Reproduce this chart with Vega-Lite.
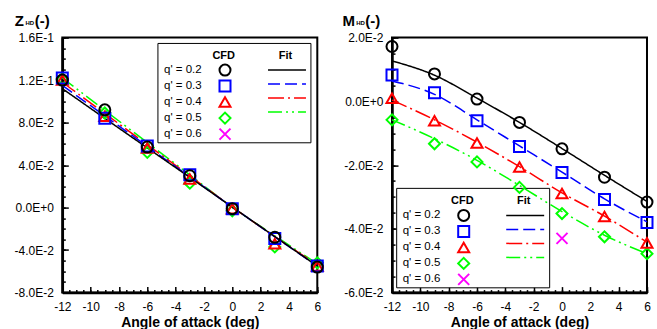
{
  "$schema": "https://vega.github.io/schema/vega-lite/v6.json",
  "padding": {"left": 12.3, "top": 11.6, "right": 0, "bottom": 0},
  "spacing": 12.7,
  "config": {
    "font": "Liberation Sans",
    "view": {"stroke": "black", "strokeWidth": 2},
    "axis": {"grid": false, "labelColor": "black", "tickColor": "black", "domainColor": "black", "titleColor": "black", "labelFontSize": 12, "labelFlush": false, "labelOverlap": false},
    "legend": {"labelFontSize": 11.5, "labelFontWeight": "normal", "labelColor": "black", "titleFontSize": 11, "titleFontWeight": "bold", "titleColor": "black", "gridAlign": "all", "rowPadding": -4.7, "padding": 0, "titlePadding": 2.75, "symbolSize": 121, "symbolStrokeWidth": 2, "orient": "none"}
  },
  "datasets": {
    "zCfd": [
      {"series": "q' = 0.5", "aoa": -12, "value": 0.121},
      {"series": "q' = 0.5", "aoa": -9, "value": 0.089},
      {"series": "q' = 0.5", "aoa": -6, "value": 0.052},
      {"series": "q' = 0.5", "aoa": -3, "value": 0.023},
      {"series": "q' = 0.5", "aoa": 0, "value": -0.003},
      {"series": "q' = 0.5", "aoa": 3, "value": -0.037},
      {"series": "q' = 0.5", "aoa": 6, "value": -0.052},
      {"series": "q' = 0.4", "aoa": -12, "value": 0.120},
      {"series": "q' = 0.4", "aoa": -9, "value": 0.086},
      {"series": "q' = 0.4", "aoa": -6, "value": 0.056},
      {"series": "q' = 0.4", "aoa": -3, "value": 0.027},
      {"series": "q' = 0.4", "aoa": 0, "value": -0.001},
      {"series": "q' = 0.4", "aoa": 3, "value": -0.034},
      {"series": "q' = 0.4", "aoa": 6, "value": -0.055},
      {"series": "q' = 0.3", "aoa": -12, "value": 0.122},
      {"series": "q' = 0.3", "aoa": -9, "value": 0.084},
      {"series": "q' = 0.3", "aoa": -6, "value": 0.058},
      {"series": "q' = 0.3", "aoa": -3, "value": 0.031},
      {"series": "q' = 0.3", "aoa": 0, "value": -0.001},
      {"series": "q' = 0.3", "aoa": 3, "value": -0.029},
      {"series": "q' = 0.3", "aoa": 6, "value": -0.055},
      {"series": "q' = 0.2", "aoa": -12, "value": 0.120},
      {"series": "q' = 0.2", "aoa": -9, "value": 0.092},
      {"series": "q' = 0.2", "aoa": -6, "value": 0.057},
      {"series": "q' = 0.2", "aoa": -3, "value": 0.030},
      {"series": "q' = 0.2", "aoa": 0, "value": -0.001},
      {"series": "q' = 0.2", "aoa": 3, "value": -0.028},
      {"series": "q' = 0.2", "aoa": 6, "value": -0.056}
    ],
    "zFit": [
      {"series": "q' = 0.5", "aoa": -12, "value": 0.122},
      {"series": "q' = 0.5", "aoa": -9, "value": 0.0916},
      {"series": "q' = 0.5", "aoa": -6, "value": 0.0612},
      {"series": "q' = 0.5", "aoa": -3, "value": 0.0308},
      {"series": "q' = 0.5", "aoa": 0, "value": 0.0003},
      {"series": "q' = 0.5", "aoa": 3, "value": -0.0265},
      {"series": "q' = 0.5", "aoa": 6, "value": -0.053},
      {"series": "q' = 0.4", "aoa": -12, "value": 0.118},
      {"series": "q' = 0.4", "aoa": -9, "value": 0.0886},
      {"series": "q' = 0.4", "aoa": -6, "value": 0.0592},
      {"series": "q' = 0.4", "aoa": -3, "value": 0.0298},
      {"series": "q' = 0.4", "aoa": 0, "value": 0.0005},
      {"series": "q' = 0.4", "aoa": 3, "value": -0.0272},
      {"series": "q' = 0.4", "aoa": 6, "value": -0.054},
      {"series": "q' = 0.3", "aoa": -12, "value": 0.115},
      {"series": "q' = 0.3", "aoa": -9, "value": 0.0863},
      {"series": "q' = 0.3", "aoa": -6, "value": 0.0576},
      {"series": "q' = 0.3", "aoa": -3, "value": 0.029},
      {"series": "q' = 0.3", "aoa": 0, "value": 0.0005},
      {"series": "q' = 0.3", "aoa": 3, "value": -0.0275},
      {"series": "q' = 0.3", "aoa": 6, "value": -0.055},
      {"series": "q' = 0.2", "aoa": -12, "value": 0.112},
      {"series": "q' = 0.2", "aoa": -9, "value": 0.084},
      {"series": "q' = 0.2", "aoa": -6, "value": 0.0562},
      {"series": "q' = 0.2", "aoa": -3, "value": 0.0284},
      {"series": "q' = 0.2", "aoa": 0, "value": 0.0005},
      {"series": "q' = 0.2", "aoa": 3, "value": -0.0273},
      {"series": "q' = 0.2", "aoa": 6, "value": -0.055}
    ],
    "mCfd": [
      {"series": "q' = 0.6", "aoa": 0, "value": -0.043},
      {"series": "q' = 0.5", "aoa": -12, "value": -0.0058},
      {"series": "q' = 0.5", "aoa": -9, "value": -0.0133},
      {"series": "q' = 0.5", "aoa": -6, "value": -0.0190},
      {"series": "q' = 0.5", "aoa": -3, "value": -0.0270},
      {"series": "q' = 0.5", "aoa": 0, "value": -0.0352},
      {"series": "q' = 0.5", "aoa": 3, "value": -0.0425},
      {"series": "q' = 0.5", "aoa": 6, "value": -0.0478},
      {"series": "q' = 0.4", "aoa": -12, "value": 0.0010},
      {"series": "q' = 0.4", "aoa": -9, "value": -0.0061},
      {"series": "q' = 0.4", "aoa": -6, "value": -0.0131},
      {"series": "q' = 0.4", "aoa": -3, "value": -0.0206},
      {"series": "q' = 0.4", "aoa": 0, "value": -0.0289},
      {"series": "q' = 0.4", "aoa": 3, "value": -0.0361},
      {"series": "q' = 0.4", "aoa": 6, "value": -0.0444},
      {"series": "q' = 0.3", "aoa": -12, "value": 0.0083},
      {"series": "q' = 0.3", "aoa": -9, "value": 0.0027},
      {"series": "q' = 0.3", "aoa": -6, "value": -0.0061},
      {"series": "q' = 0.3", "aoa": -3, "value": -0.0142},
      {"series": "q' = 0.3", "aoa": 0, "value": -0.0223},
      {"series": "q' = 0.3", "aoa": 3, "value": -0.0308},
      {"series": "q' = 0.3", "aoa": 6, "value": -0.0380},
      {"series": "q' = 0.2", "aoa": -12, "value": 0.0172},
      {"series": "q' = 0.2", "aoa": -9, "value": 0.0086},
      {"series": "q' = 0.2", "aoa": -6, "value": 0.0007},
      {"series": "q' = 0.2", "aoa": -3, "value": -0.0066},
      {"series": "q' = 0.2", "aoa": 0, "value": -0.0149},
      {"series": "q' = 0.2", "aoa": 3, "value": -0.0238},
      {"series": "q' = 0.2", "aoa": 6, "value": -0.0316}
    ],
    "mFit": [
      {"series": "q' = 0.5", "aoa": -12, "value": -0.0058},
      {"series": "q' = 0.5", "aoa": -9, "value": -0.0117},
      {"series": "q' = 0.5", "aoa": -6, "value": -0.0185},
      {"series": "q' = 0.5", "aoa": -3, "value": -0.0264},
      {"series": "q' = 0.5", "aoa": 0, "value": -0.0346},
      {"series": "q' = 0.5", "aoa": 3, "value": -0.0420},
      {"series": "q' = 0.5", "aoa": 6, "value": -0.0478},
      {"series": "q' = 0.4", "aoa": -12, "value": 0.0004},
      {"series": "q' = 0.4", "aoa": -9, "value": -0.0058},
      {"series": "q' = 0.4", "aoa": -6, "value": -0.0128},
      {"series": "q' = 0.4", "aoa": -3, "value": -0.0205},
      {"series": "q' = 0.4", "aoa": 0, "value": -0.0287},
      {"series": "q' = 0.4", "aoa": 3, "value": -0.0360},
      {"series": "q' = 0.4", "aoa": 6, "value": -0.0442},
      {"series": "q' = 0.3", "aoa": -12, "value": 0.0064},
      {"series": "q' = 0.3", "aoa": -9, "value": 0.0022},
      {"series": "q' = 0.3", "aoa": -6, "value": -0.0058},
      {"series": "q' = 0.3", "aoa": -3, "value": -0.0140},
      {"series": "q' = 0.3", "aoa": 0, "value": -0.0222},
      {"series": "q' = 0.3", "aoa": 3, "value": -0.0306},
      {"series": "q' = 0.3", "aoa": 6, "value": -0.0378},
      {"series": "q' = 0.2", "aoa": -12, "value": 0.0127},
      {"series": "q' = 0.2", "aoa": -9, "value": 0.0082},
      {"series": "q' = 0.2", "aoa": -6, "value": 0.0010},
      {"series": "q' = 0.2", "aoa": -3, "value": -0.0066},
      {"series": "q' = 0.2", "aoa": 0, "value": -0.0148},
      {"series": "q' = 0.2", "aoa": 3, "value": -0.0232},
      {"series": "q' = 0.2", "aoa": 6, "value": -0.0314}
    ]
  },
  "hconcat": [
    {
      "width": 255,
      "height": 255,
      "layer": [
        {
          "data": {"values": [{"box": "legend frame"}]},
          "mark": {"type": "rect", "fill": "white", "stroke": "black", "strokeWidth": 1},
          "encoding": {
            "x": {"datum": -5.25, "type": "quantitative", "scale": {"domain": [-12, 6], "nice": false, "zero": false},
              "axis": {"orient": "bottom", "values": [-12, -10, -8, -6, -4, -2, 0, 2, 4, 6], "tickSize": -6, "tickWidth": 1.5, "labelPadding": 14.5, "domainWidth": 2.5,
                "labelExpr": "replace(format(datum.value, 'd'), regexp('\u2212', 'g'), '-')",
                "title": "Angle of attack (deg)", "titleFontSize": 14, "titleFontWeight": "bold", "titleY": 33.5, "titleBaseline": "alphabetic"}},
            "x2": {"datum": 5.55},
            "y": {"datum": 0.1545, "type": "quantitative", "scale": {"domain": [-0.08, 0.16], "nice": false, "zero": false},
              "axis": {"orient": "left", "values": [-0.08, -0.04, 0, 0.04, 0.08, 0.12, 0.16], "tickSize": -6, "tickWidth": 1.5, "labelPadding": 15, "domainWidth": 2.5,
                "labelExpr": "replace(upper(format(datum.value, '.1e')), regexp('\u2212', 'g'), '-')",
                "title": "Z", "titleFontSize": 15, "titleFontWeight": "bold", "titleAngle": 0, "titleAlign": "left", "titleBaseline": "alphabetic", "titleX": -48, "titleY": -12.5}},
            "y2": {"datum": 0.061}
          }
        },
        {
          "data": {"name": "zFit"},
          "mark": {"type": "line", "interpolate": "monotone", "strokeWidth": 1.5},
          "encoding": {
            "x": {"field": "aoa", "type": "quantitative", "scale": {"domain": [-12, 6], "nice": false, "zero": false},
              "axis": {"orient": "top", "ticks": false, "labels": false, "domain": false, "title": "(-)", "titleFontSize": 15, "titleFontWeight": "bold", "titleAngle": 0, "titleAlign": "left", "titleBaseline": "alphabetic", "titleX": -28, "titleY": -12.5}},
            "y": {"field": "value", "type": "quantitative", "scale": {"domain": [-0.08, 0.16], "nice": false, "zero": false}, "axis": null},
            "color": {"field": "series", "type": "nominal",
              "scale": {"domain": ["q' = 0.2", "q' = 0.3", "q' = 0.4", "q' = 0.5"], "range": ["#000000", "#0000ff", "#ff0000", "#00ff00"]},
              "legend": {"title": "Fit", "legendX": 199.2, "legendY": 12.25, "titleAnchor": "middle", "symbolType": "M-3.45,0H3.45", "symbolStrokeWidth": 1.5, "symbolOffset": 19, "labelOffset": -10, "labelAlign": "center", "labelFontSize": 13, "labelColor": "transparent"}},
            "strokeDash": {"field": "series", "type": "nominal",
              "scale": {"domain": ["q' = 0.2", "q' = 0.3", "q' = 0.4", "q' = 0.5"], "range": [[1, 0], [12, 5], [16, 4, 2, 4], [14, 4, 2, 4, 2, 4]]},
              "legend": {"title": "Fit", "legendX": 199.2, "legendY": 12.25, "titleAnchor": "middle", "symbolType": "M-3.45,0H3.45", "symbolStrokeWidth": 1.5, "symbolOffset": 19, "labelOffset": -10, "labelAlign": "center", "labelFontSize": 13, "labelColor": "transparent"}}
          }
        },
        {
          "data": {"name": "zCfd"},
          "mark": {"type": "point", "filled": false, "strokeWidth": 2, "size": 121, "opacity": 1},
          "encoding": {
            "x": {"field": "aoa", "type": "quantitative", "scale": {"domain": [-12, 6], "nice": false, "zero": false},
              "axis": {"orient": "bottom", "values": [-12, -11.5, -11, -10.5, -10, -9.5, -9, -8.5, -8, -7.5, -7, -6.5, -6, -5.5, -5, -4.5, -4, -3.5, -3, -2.5, -2, -1.5, -1, -0.5, 0, 0.5, 1, 1.5, 2, 2.5, 3, 3.5, 4, 4.5, 5, 5.5, 6], "tickSize": -3, "tickWidth": 1.5, "labels": false, "domain": false, "title": null}},
            "y": {"field": "value", "type": "quantitative", "scale": {"domain": [-0.08, 0.16], "nice": false, "zero": false},
              "axis": {"orient": "left", "values": [-0.08, -0.07, -0.06, -0.05, -0.04, -0.03, -0.02, -0.01, 0, 0.01, 0.02, 0.03, 0.04, 0.05, 0.06, 0.07, 0.08, 0.09, 0.1, 0.11, 0.12, 0.13, 0.14, 0.15, 0.16], "tickSize": -3, "tickWidth": 1.5, "labels": false, "domain": false,
                "title": "HD", "titleFontSize": 6, "titleFontWeight": "bold", "titleAngle": 0, "titleAlign": "left", "titleBaseline": "alphabetic", "titleX": -37.3, "titleY": -13}},
            "color": {"field": "series", "type": "nominal",
              "scale": {"domain": ["q' = 0.2", "q' = 0.3", "q' = 0.4", "q' = 0.5", "q' = 0.6"], "range": ["#000000", "#0000ff", "#ff0000", "#00ff00", "#ff00ff"]},
              "legend": {"title": "CFD", "legendX": 101.7, "legendY": 12.25, "titleAnchor": "end", "labelOffset": -67.5, "symbolOffset": 54.5, "labelAlign": "left"}},
            "shape": {"field": "series", "type": "nominal",
              "scale": {"domain": ["q' = 0.2", "q' = 0.3", "q' = 0.4", "q' = 0.5", "q' = 0.6"], "range": ["circle", "square", "triangle-up", "diamond", "M-1,-1L1,1M-1,1L1,-1"]},
              "legend": {"title": "CFD", "legendX": 101.7, "legendY": 12.25, "titleAnchor": "end", "labelOffset": -67.5, "symbolOffset": 54.5, "labelAlign": "left"}}
          }
        }
      ],
      "resolve": {"scale": {"color": "independent", "shape": "independent", "strokeDash": "independent"}, "axis": {"x": "independent", "y": "independent"}}
    },
    {
      "width": 255,
      "height": 255,
      "layer": [
        {
          "data": {"values": [{"box": "legend frame"}]},
          "mark": {"type": "rect", "fill": "white", "stroke": "black", "strokeWidth": 1},
          "encoding": {
            "x": {"datum": -11.67, "type": "quantitative", "scale": {"domain": [-12, 6], "nice": false, "zero": false},
              "axis": {"orient": "bottom", "values": [-12, -10, -8, -6, -4, -2, 0, 2, 4, 6], "tickSize": -6, "tickWidth": 1.5, "labelPadding": 14.5, "domainWidth": 2.5,
                "labelExpr": "replace(format(datum.value, 'd'), regexp('\u2212', 'g'), '-')",
                "title": "Angle of attack (deg)", "titleFontSize": 14, "titleFontWeight": "bold", "titleY": 33.5, "titleBaseline": "alphabetic"}},
            "x2": {"datum": -0.87},
            "y": {"datum": -0.0273, "type": "quantitative", "scale": {"domain": [-0.06, 0.02], "nice": false, "zero": false},
              "axis": {"orient": "left", "values": [-0.06, -0.04, -0.02, 0, 0.02], "tickSize": -6, "tickWidth": 1.5, "labelPadding": 15, "domainWidth": 2.5,
                "labelExpr": "replace(upper(format(datum.value, '.1e')), regexp('\u2212', 'g'), '-')",
                "title": "M", "titleFontSize": 15, "titleFontWeight": "bold", "titleAngle": 0, "titleAlign": "left", "titleBaseline": "alphabetic", "titleX": -50, "titleY": -12.5}},
            "y2": {"datum": -0.0585}
          }
        },
        {
          "data": {"name": "mFit"},
          "mark": {"type": "line", "interpolate": "monotone", "strokeWidth": 1.5},
          "encoding": {
            "x": {"field": "aoa", "type": "quantitative", "scale": {"domain": [-12, 6], "nice": false, "zero": false},
              "axis": {"orient": "top", "ticks": false, "labels": false, "domain": false, "title": "(-)", "titleFontSize": 15, "titleFontWeight": "bold", "titleAngle": 0, "titleAlign": "left", "titleBaseline": "alphabetic", "titleX": -27.3, "titleY": -12.5}},
            "y": {"field": "value", "type": "quantitative", "scale": {"domain": [-0.06, 0.02], "nice": false, "zero": false}, "axis": null},
            "color": {"field": "series", "type": "nominal",
              "scale": {"domain": ["q' = 0.2", "q' = 0.3", "q' = 0.4", "q' = 0.5"], "range": ["#000000", "#0000ff", "#ff0000", "#00ff00"]},
              "legend": {"title": "Fit", "legendX": 107.7, "legendY": 157.55, "titleAnchor": "middle", "symbolType": "M-3.45,0H3.45", "symbolStrokeWidth": 1.5, "symbolOffset": 19, "labelOffset": -10, "labelAlign": "center", "labelFontSize": 13, "labelColor": "transparent"}},
            "strokeDash": {"field": "series", "type": "nominal",
              "scale": {"domain": ["q' = 0.2", "q' = 0.3", "q' = 0.4", "q' = 0.5"], "range": [[1, 0], [12, 5], [16, 4, 2, 4], [14, 4, 2, 4, 2, 4]]},
              "legend": {"title": "Fit", "legendX": 107.7, "legendY": 157.55, "titleAnchor": "middle", "symbolType": "M-3.45,0H3.45", "symbolStrokeWidth": 1.5, "symbolOffset": 19, "labelOffset": -10, "labelAlign": "center", "labelFontSize": 13, "labelColor": "transparent"}}
          }
        },
        {
          "data": {"name": "mCfd"},
          "mark": {"type": "point", "filled": false, "strokeWidth": 2, "size": 121, "opacity": 1},
          "encoding": {
            "x": {"field": "aoa", "type": "quantitative", "scale": {"domain": [-12, 6], "nice": false, "zero": false},
              "axis": {"orient": "bottom", "values": [-12, -11.5, -11, -10.5, -10, -9.5, -9, -8.5, -8, -7.5, -7, -6.5, -6, -5.5, -5, -4.5, -4, -3.5, -3, -2.5, -2, -1.5, -1, -0.5, 0, 0.5, 1, 1.5, 2, 2.5, 3, 3.5, 4, 4.5, 5, 5.5, 6], "tickSize": -3, "tickWidth": 1.5, "labels": false, "domain": false, "title": null}},
            "y": {"field": "value", "type": "quantitative", "scale": {"domain": [-0.06, 0.02], "nice": false, "zero": false},
              "axis": {"orient": "left", "values": [-0.06, -0.055, -0.05, -0.045, -0.04, -0.035, -0.03, -0.025, -0.02, -0.015, -0.01, -0.005, 0, 0.005, 0.01, 0.015, 0.02], "tickSize": -3, "tickWidth": 1.5, "labels": false, "domain": false,
                "title": "HD", "titleFontSize": 6, "titleFontWeight": "bold", "titleAngle": 0, "titleAlign": "left", "titleBaseline": "alphabetic", "titleX": -36.3, "titleY": -13}},
            "color": {"field": "series", "type": "nominal",
              "scale": {"domain": ["q' = 0.2", "q' = 0.3", "q' = 0.4", "q' = 0.5", "q' = 0.6"], "range": ["#000000", "#0000ff", "#ff0000", "#00ff00", "#ff00ff"]},
              "legend": {"title": "CFD", "legendX": 10.7, "legendY": 157.55, "titleAnchor": "end", "labelOffset": -67.5, "symbolOffset": 54.5, "labelAlign": "left"}},
            "shape": {"field": "series", "type": "nominal",
              "scale": {"domain": ["q' = 0.2", "q' = 0.3", "q' = 0.4", "q' = 0.5", "q' = 0.6"], "range": ["circle", "square", "triangle-up", "diamond", "M-1,-1L1,1M-1,1L1,-1"]},
              "legend": {"title": "CFD", "legendX": 10.7, "legendY": 157.55, "titleAnchor": "end", "labelOffset": -67.5, "symbolOffset": 54.5, "labelAlign": "left"}}
          }
        }
      ],
      "resolve": {"scale": {"color": "independent", "shape": "independent", "strokeDash": "independent"}, "axis": {"x": "independent", "y": "independent"}}
    }
  ]
}
